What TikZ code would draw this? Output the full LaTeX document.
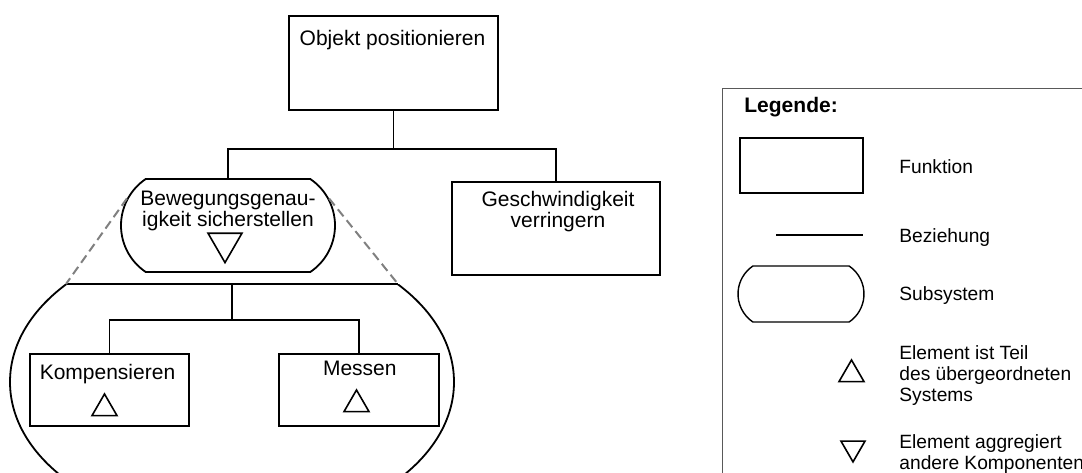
\documentclass[tikz,border=0pt]{standalone}
\usepackage{fontspec}
\setmainfont{Liberation Sans}
\usetikzlibrary{shapes.geometric,shapes.misc}

\begin{document}
\begin{tikzpicture}[x=0.5pt, y=-0.5pt,
func/.style={draw, line width=0.9pt, inner sep=0pt},
subsys/.style={draw, line width=0.9pt, inner sep=0pt, rounded rectangle, rounded rectangle arc length=112},
txt/.style={inner sep=0pt, anchor=base, align=center, font=\fontsize{10.5}{10.25}\selectfont},
leg/.style={inner sep=0pt, anchor=base west, align=left, font=\fontsize{9.6}{10.5}\selectfont},
triup/.style={draw, line width=0.8pt, regular polygon, regular polygon sides=3, inner sep=0pt, minimum size=#1},
tridown/.style={triup=#1, shape border rotate=180},
conn/.style={line width=0.9pt},
zoomline/.style={draw=gray, line width=1pt, dash pattern=on 4.5pt off 2.5pt},
]
\path[use as bounding box] (0,0) rectangle (1082,472);
\clip (0,0) rectangle (1082,472);

%Top level
\node[func, minimum width=104.5pt, minimum height=47pt] (obj) at (393.5,63) {};
\node[txt] (objText) at (392.5,45) {Objekt positionieren};
\node[subsys, minimum width=107pt, minimum height=46.5pt] (bew) at (228,225.5) {};
\node[txt] (bewText) at (228,226) {Bewegungsgenau-\\igkeit sicherstellen};
\node[tridown=19.6pt] (bewTri) at (225,243) {};
\node[func, minimum width=104pt, minimum height=46.5pt] (gesch) at (556,228.5) {};
\node[txt] (geschText) at (558,227) {Geschwindigkeit\\verringern};

%Connections top level
\draw[conn] (obj.south) -- ++(0,38) coordinate (hubTop);
\draw[conn] (hubTop) -| (bew.north);
\draw[conn] (hubTop) -| (gesch.north);

%Exploded subsystem
\coordinate (chordL) at (66,284);
\coordinate (chordR) at (398,284);
\coordinate (chordM) at (232,284);
\begin{scope}
\clip (0,284) rectangle (1082,472);
\draw[conn] (232,382) ellipse [x radius=111pt, y radius=73.5pt];
\end{scope}
\draw[conn] (chordL) -- (chordR);
\draw[zoomline] (bew.165) -- (chordL);
\draw[zoomline] (bew.15) -- (chordR);

%Lower level
\node[func, minimum width=79.5pt, minimum height=36pt] (komp) at (109.5,390) {};
\node[txt] (kompText) at (107.5,379) {Kompensieren};
\node[triup=14.43pt] (kompTri) at (104.5,408.4) {};
\node[func, minimum width=80pt, minimum height=36pt] (mess) at (359,390) {};
\node[txt] (messText) at (359.8,375) {Messen};
\node[triup=14.43pt] (messTri) at (356.5,404.4) {};

%Connections lower level
\draw[conn] (chordM) -- ++(0,36) coordinate (hubLow);
\draw[conn] (hubLow) -| (komp.north);
\draw[conn] (hubLow) -| (mess.north);

%Legend
\draw[draw=black!65, line width=0.5pt] (722,88) rectangle (1100,490);
\node[inner sep=0pt, anchor=base west, font=\fontsize{10.5}{12}\selectfont\bfseries] (legTitle) at (744,112) {Legende:};
\node[func, line width=0.7pt, minimum width=61.5pt, minimum height=27.5pt] (legFunc) at (801.5,165.5) {};
\node[leg] (legFuncText) at (899,173) {Funktion};
\coordinate (legLineA) at (776,235);
\coordinate (legLineB) at (863,235);
\draw[conn, line width=0.7pt] (legLineA) -- (legLineB);
\node[leg] (legLineText) at (899,242) {Beziehung};
\node[subsys, line width=0.7pt, minimum width=63pt, minimum height=28pt] (legSub) at (801,294) {};
\node[leg] (legSubText) at (899,300) {Subsystem};
\node[triup=14.43pt] (legUp) at (851.5,374.4) {};
\node[leg] (legUpText) at (899,401) {Element ist Teil\\des übergeordneten\\Systems};
\node[tridown=13.9pt] (legDown) at (853,448) {};
\node[leg] (legDownText) at (899,469) {Element aggregiert\\andere Komponenten};
\end{tikzpicture}
\end{document}
